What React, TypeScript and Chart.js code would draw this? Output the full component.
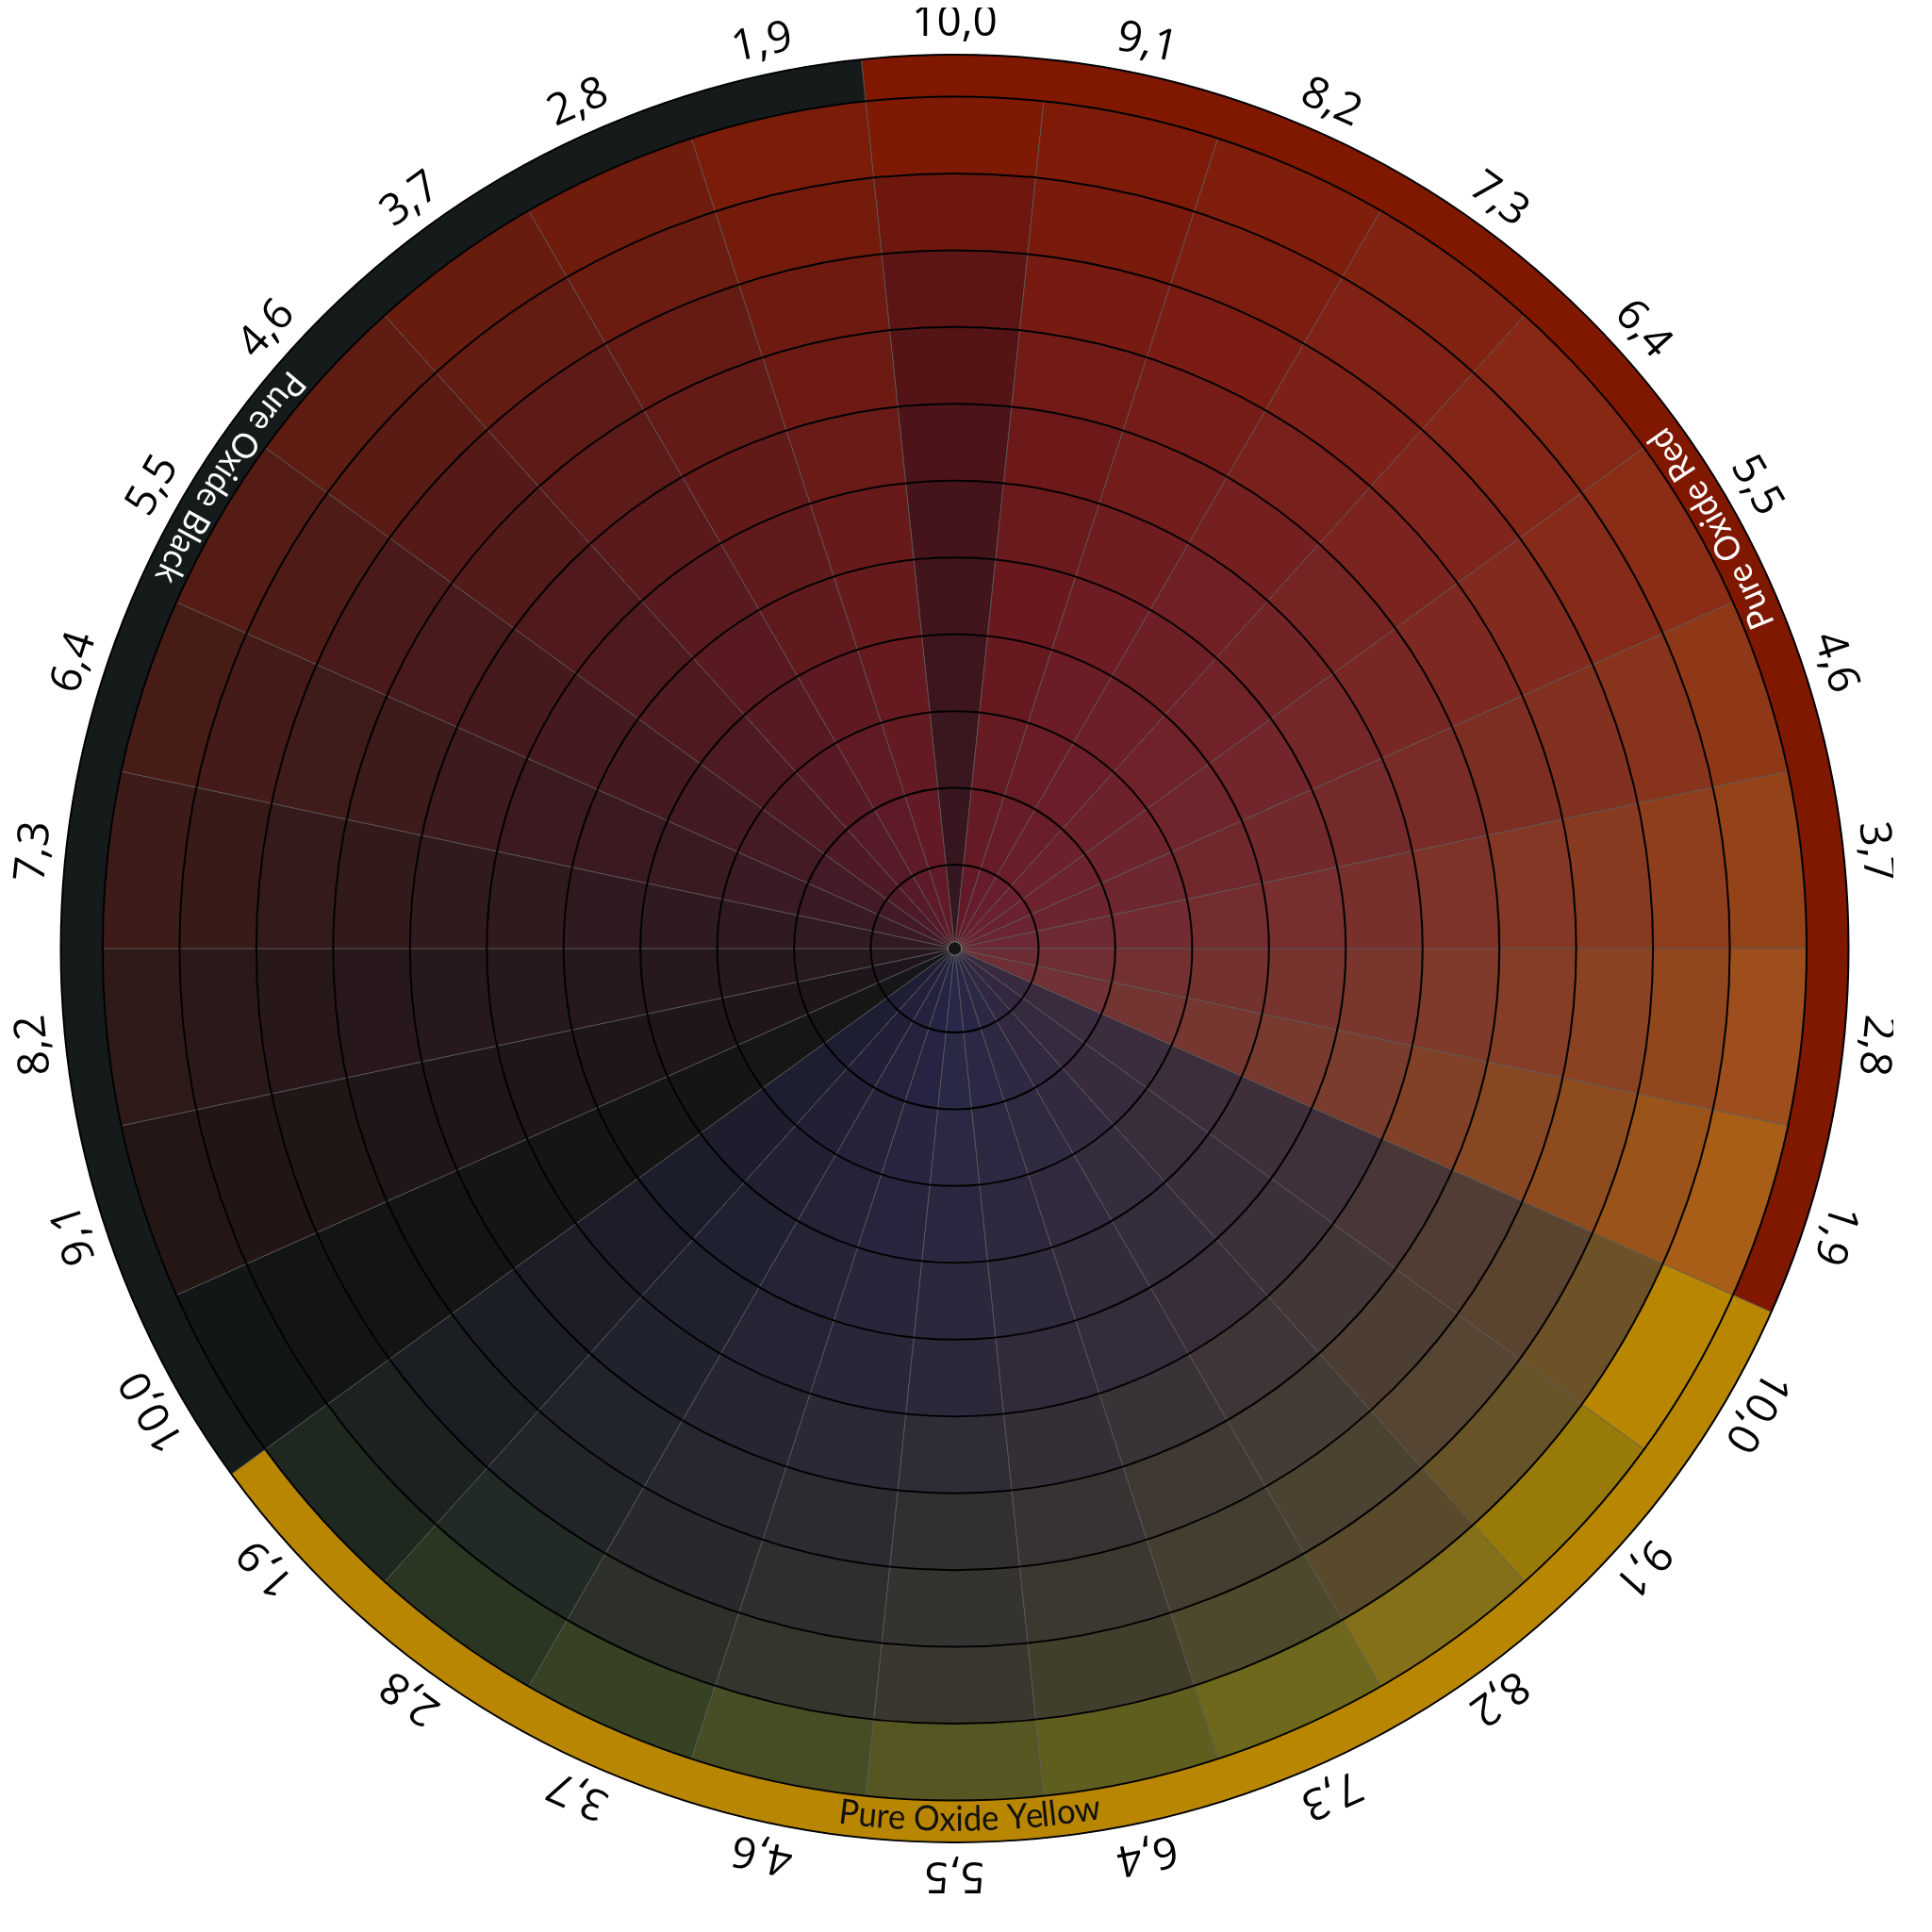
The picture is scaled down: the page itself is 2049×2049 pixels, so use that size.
import React, { useEffect, useRef } from "react";
import { Chart, registerables } from "chart.js";
Chart.register(...registerables);

// ---------- data ----------
const groupLabels = ["10,0", "9,1", "8,2", "7,3", "6,4", "5,5", "4,6", "3,7", "2,8", "1,9"];
const sectorLabels = [...groupLabels, ...groupLabels, ...groupLabels];
const sectorValues = [1, 1, 1, 1, 1, 1, 1, 1, 1, 1, 1, 1, 1, 1, 1, 1, 1, 1, 1, 1, 1, 1, 1, 1, 1, 1, 1, 1, 1, 1];
const bandNames = ["Pure Oxide Red", "Pure Oxide Yellow", "Pure Oxide Black"];
const bandValues = [10, 10, 10];

// ---------- styles ----------
const bandColors = ["#801800", "#b88600", "#151a1a"];
const bandTextColors = ["#ffffff", "#111111", "#ffffff"];
const BAND_TEXT_ANGLES = [61, 179, 303];

// colour anchors per sector (outer ring = 10 ... inner ring = 0)
const ring10 = ["#7e1904", "#7d1b08", "#801e0c", "#822210", "#872814", "#8a2c16", "#8e3818", "#944218", "#9e4e1c", "#a85e16",
  "#b88600", "#977a08", "#847018", "#6e681c", "#605e1e", "#555622", "#464c24", "#374224", "#2a3622", "#1f281f",
  "#121616", "#241614", "#2e1a18", "#3c1b18", "#481c16", "#541c14", "#5e1c12", "#681c0e", "#701c0c", "#7a1c08"];
const ring9 = ["#6e170e", "#7a1a0d", "#7d1d10", "#7f2114", "#832618", "#862b1a", "#88341c", "#8e3e1c", "#92461e", "#9a541a",
  "#6c5226", "#665328", "#5a4a2c", "#4e482c", "#423e2c", "#3a382e", "#34352c", "#2c3028", "#222a26", "#1c2220",
  "#131514", "#221615", "#2b1919", "#381b19", "#441b18", "#4f1b17", "#5a1b15", "#631b12", "#6b1b10", "#741b0c"];
const ring8 = ["#5c1414", "#761a12", "#7a1c14", "#7c2018", "#7f251c", "#822a1e", "#823020", "#883a20", "#8a4222", "#8e4c1e",
  "#5a4430", "#554532", "#4c4232", "#443e30", "#3c3830", "#353330", "#2e2e2e", "#28292c", "#21252a", "#1b1e22",
  "#141414", "#201616", "#29181a", "#341a1a", "#3f1b1a", "#4a1a1a", "#551a18", "#5e1a16", "#661a14", "#6f1a10"];
const ring5 = ["#44141a", "#6a191c", "#6e1c20", "#701f24", "#722326", "#742628", "#742a2a", "#78302c", "#7a362c", "#7a3c2c",
  "#40303a", "#3c3039", "#382e3a", "#342c3a", "#302a3a", "#2c283a", "#282638", "#242434", "#20212e", "#1c1d28",
  "#151515", "#1e1618", "#26181c", "#2f1a1e", "#3a1a1e", "#441a1e", "#4e1a1e", "#581a1e", "#601a1c", "#681a1a"];
const ring0 = ["#341720", "#641a26", "#661c2a", "#681e2c", "#6a202e", "#6a2230", "#6a2432", "#6c2834", "#6c2c34", "#6e3036",
  "#382a40", "#342840", "#302842", "#2c2844", "#2a2646", "#282848", "#262444", "#24223e", "#22203a", "#1e1e34",
  "#161618", "#1e161c", "#281820", "#301a24", "#3a1a26", "#441a28", "#4e1a28", "#561a2a", "#5e1a28", "#621a26"];

function hexToRgb(h: string): number[] {
  const v = parseInt(h.slice(1), 16);
  return [(v >> 16) & 255, (v >> 8) & 255, v & 255];
}
function mix(a: string, b: string, t: number): string {
  const A = hexToRgb(a), B = hexToRgb(b);
  const c = A.map((x, i) => Math.round(x + (B[i] - x) * t));
  return `rgb(${c[0]},${c[1]},${c[2]})`;
}
function ringColors(ring: number): string[] {
  return sectorLabels.map((_, k) => {
    if (ring === 10) return ring10[k];
    if (ring === 9) return ring9[k];
    if (ring === 8) return ring8[k];
    if (ring > 5) return mix(ring5[k], ring8[k], (ring - 5) / 3);
    if (ring === 5) return ring5[k];
    return mix(ring0[k], ring5[k], ring / 5);
  });
}

const RADIAL_LINE = "rgba(88,88,88,0.75)";
const BAND_FONT_PX = 37;
const BAND_X_SCALE = 0.94;

const overlayPlugin = {
  id: "overlay",
  afterDatasetsDraw(chart: any) {
    const ctx: CanvasRenderingContext2D = chart.ctx;
    const bandMeta = chart.getDatasetMeta(0);
    const bandArc = bandMeta.data[0];
    const cx = bandArc.x, cy = bandArc.y;
    const bandOuter = bandArc.outerRadius;
    const bandInner = bandArc.innerRadius;

    ctx.save();
    // ring circles
    ctx.strokeStyle = "#000";
    ctx.lineWidth = 2;
    chart.data.datasets.forEach((_: any, i: number) => {
      const a = chart.getDatasetMeta(i).data[0];
      ctx.beginPath();
      ctx.arc(cx, cy, a.outerRadius, 0, Math.PI * 2);
      ctx.stroke();
    });
    // centre hub
    ctx.fillStyle = "#161616";
    ctx.beginPath();
    ctx.arc(cx, cy, 7, 0, Math.PI * 2);
    ctx.fill();

    // sector tick labels
    const ringMeta = chart.getDatasetMeta(1);
    ctx.fillStyle = "#000";
    ctx.font = '46px "Open Sans"';
    ctx.textAlign = "center";
    ctx.textBaseline = "alphabetic";
    ringMeta.data.forEach((arc: any, i: number) => {
      const mid = (arc.startAngle + arc.endAngle) / 2 + Math.PI / 2;
      ctx.save();
      ctx.translate(cx, cy);
      ctx.rotate(mid);
      ctx.fillText(sectorLabels[i], 0, -(bandOuter + 20.5));
      ctx.restore();
    });

    // band names along the arc (tops toward centre)
    const rMid = (bandOuter + bandInner) / 2;
    const rBase = rMid + 10;
    ctx.font = `${BAND_FONT_PX}px "Lato"`;
    bandNames.forEach((name, b) => {
      ctx.fillStyle = bandTextColors[b];
      const total = ctx.measureText(name).width * BAND_X_SCALE;
      const phiC = (BAND_TEXT_ANGLES[b] * Math.PI) / 180;
      for (let i = 0; i < name.length; i++) {
        const ch = name[i];
        const before = ctx.measureText(name.slice(0, i)).width;
        const upto = ctx.measureText(name.slice(0, i + 1)).width;
        const s = ((before + upto) / 2) * BAND_X_SCALE;
        const phi = phiC + (total / 2 - s) / rMid;
        ctx.save();
        ctx.translate(cx, cy);
        ctx.rotate(phi + Math.PI);
        ctx.translate(0, rBase);
        ctx.scale(BAND_X_SCALE, 1);
        ctx.fillText(ch, 0, 0);
        ctx.restore();
      }
    });
    ctx.restore();
  },
};

export default function App() {
  const ref = useRef<HTMLCanvasElement | null>(null);
  useEffect(() => {
    if (!ref.current) return;
    const datasets: any[] = [
      {
        data: bandValues,
        backgroundColor: bandColors,
        borderColor: RADIAL_LINE,
        borderWidth: 1,
        hoverBorderWidth: 1,
        weight: 0.546,
      },
    ];
    for (let ring = 10; ring >= 0; ring--) {
      datasets.push({
        data: sectorValues,
        backgroundColor: ringColors(ring),
        borderColor: RADIAL_LINE,
        borderWidth: 1,
        hoverBorderWidth: 1,
        weight: 1,
      });
    }
    const chart = new Chart(ref.current, {
      type: "doughnut",
      data: { labels: sectorLabels, datasets },
      options: {
        responsive: false,
        animation: false,
        events: [],
        rotation: -6,
        cutout: 7.5,
        layout: { padding: { left: 56, top: 49.5, right: 47, bottom: 53.5 } },
        plugins: { legend: { display: false }, tooltip: { enabled: false } },
      },
      plugins: [overlayPlugin],
    } as any);
    return () => chart.destroy();
  }, []);
  return <canvas ref={ref} width={2000} height={2000} style={{ display: "block" }} />;
}
